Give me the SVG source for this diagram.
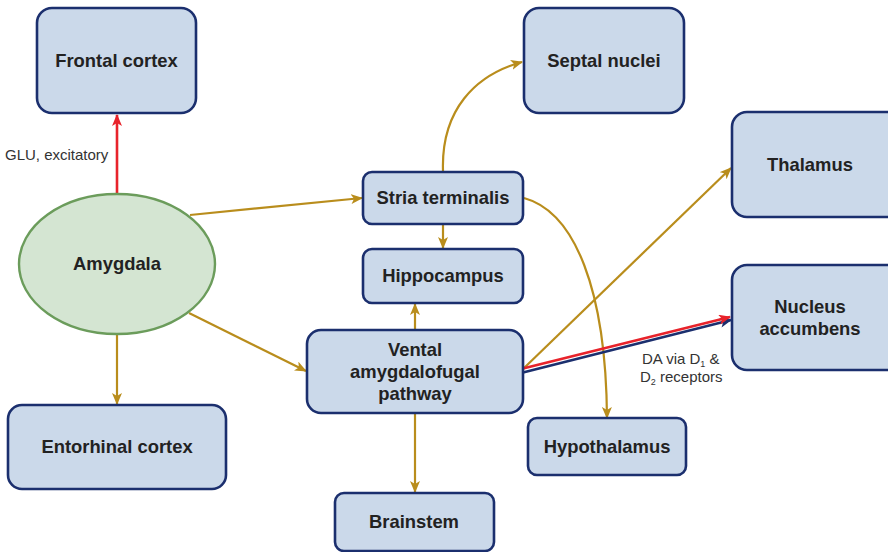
<svg xmlns="http://www.w3.org/2000/svg" width="888" height="552" viewBox="0 0 888 552">
  <defs>
    <style>
      .box { fill: #cbd9ea; stroke: #1b2f6e; stroke-width: 2.6; }
      .lbl { font-family: "Liberation Sans", Arial, sans-serif; font-weight: bold; font-size: 18.4px; fill: #222; text-anchor: middle; }
      .note { font-family: "Liberation Sans", Arial, sans-serif; font-size: 15px; fill: #333; }
      .gold { fill: none; stroke: #b98d1c; stroke-width: 2.2; marker-end: url(#ahGold); }
      .red { fill: none; stroke: #e8232b; stroke-width: 2.6; }
      .blue { fill: none; stroke: #1b2f6e; stroke-width: 2.6; }
    </style>
    <marker id="ahGold" viewBox="0 0 12 10" refX="11" refY="5" markerWidth="12" markerHeight="10" markerUnits="userSpaceOnUse" orient="auto">
      <path d="M0,0 L12,5 L0,10 L3,5 Z" fill="#b98d1c"/>
    </marker>
    <marker id="ahRed" viewBox="0 0 12 10" refX="11" refY="5" markerWidth="13" markerHeight="10" markerUnits="userSpaceOnUse" orient="auto">
      <path d="M0,0 L12,5 L0,10 L3,5 Z" fill="#e8232b"/>
    </marker>
    <marker id="ahBlue" viewBox="0 0 12 10" refX="11" refY="5" markerWidth="13" markerHeight="10" markerUnits="userSpaceOnUse" orient="auto">
      <path d="M0,0 L12,5 L0,10 L3,5 Z" fill="#1b2f6e"/>
    </marker>
  </defs>

  <rect width="888" height="552" fill="#ffffff"/>

  <!-- connectors -->
  <g id="connectors">
    <line class="red" x1="117" y1="194" x2="117" y2="115" marker-end="url(#ahRed)"/>
    <line class="gold" x1="117" y1="334" x2="117" y2="404"/>
    <line class="gold" x1="190" y1="215" x2="362" y2="198"/>
    <line class="gold" x1="189" y1="313" x2="306" y2="371"/>
    <line class="gold" x1="443" y1="225" x2="443" y2="248"/>
    <line class="gold" x1="415" y1="330" x2="415" y2="304"/>
    <line class="gold" x1="415" y1="414" x2="415" y2="492"/>
    <path class="gold" d="M443,171 C441,110 475,75 522,62"/>
    <path class="gold" d="M524,198 C575,212 606,290 607,418"/>
    <line class="gold" x1="523" y1="369" x2="731" y2="168"/>
    <line class="blue" x1="523" y1="372.5" x2="731" y2="320" marker-end="url(#ahBlue)"/>
    <line class="red" x1="523" y1="368.5" x2="730" y2="317" marker-end="url(#ahRed)"/>
  </g>

  <!-- connector labels -->
  <text class="note" x="5" y="160">GLU, excitatory</text>
  <text class="note" x="642" y="364">DA via D<tspan font-size="9" dy="3">1</tspan><tspan dy="-3"> &amp;</tspan></text>
  <text class="note" x="640" y="382">D<tspan font-size="9" dy="3">2</tspan><tspan dy="-3"> receptors</tspan></text>

  <!-- nodes -->
  <g id="amygdala">
    <ellipse cx="117" cy="264" rx="98" ry="70" fill="#d4e5d2" stroke="#6b9c5b" stroke-width="2.4"/>
    <text class="lbl" x="117" y="270">Amygdala</text>
  </g>
  <g id="frontal-cortex">
    <rect class="box" x="37" y="8" width="159" height="105" rx="15"/>
    <text class="lbl" x="116.5" y="67">Frontal cortex</text>
  </g>
  <g id="septal-nuclei">
    <rect class="box" x="524" y="8" width="160" height="105" rx="15"/>
    <text class="lbl" x="604" y="67">Septal nuclei</text>
  </g>
  <g id="thalamus">
    <rect class="box" x="732" y="112" width="170" height="105" rx="15"/>
    <text class="lbl" x="810" y="171">Thalamus</text>
  </g>
  <g id="nucleus-accumbens">
    <rect class="box" x="732" y="265" width="170" height="105" rx="15"/>
    <text class="lbl" x="810" y="313">Nucleus</text>
    <text class="lbl" x="810" y="335">accumbens</text>
  </g>
  <g id="hypothalamus">
    <rect class="box" x="528" y="418" width="158" height="57" rx="9"/>
    <text class="lbl" x="607" y="453">Hypothalamus</text>
  </g>
  <g id="stria-terminalis">
    <rect class="box" x="363" y="172" width="160" height="52" rx="9"/>
    <text class="lbl" x="443" y="204">Stria terminalis</text>
  </g>
  <g id="hippocampus">
    <rect class="box" x="363" y="249" width="160" height="54" rx="9"/>
    <text class="lbl" x="443" y="282">Hippocampus</text>
  </g>
  <g id="ventral-amygdalofugal-pathway">
    <rect class="box" x="307" y="330" width="216" height="83" rx="14"/>
    <text class="lbl" x="415" y="356">Vental</text>
    <text class="lbl" x="415" y="378">amygdalofugal</text>
    <text class="lbl" x="415" y="400">pathway</text>
  </g>
  <g id="entorhinal-cortex">
    <rect class="box" x="8" y="405" width="218" height="84" rx="14"/>
    <text class="lbl" x="117" y="453">Entorhinal cortex</text>
  </g>
  <g id="brainstem">
    <rect class="box" x="335" y="493" width="159" height="58" rx="9"/>
    <text class="lbl" x="414" y="528">Brainstem</text>
  </g>
</svg>
